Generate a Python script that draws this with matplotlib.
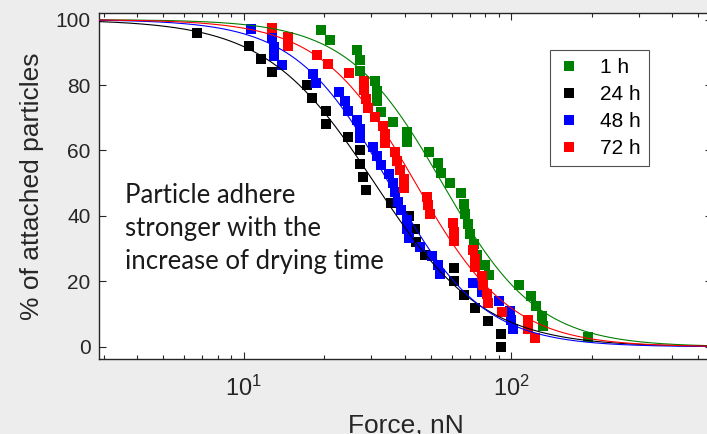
import numpy as np
import matplotlib
matplotlib.use("Agg")
import matplotlib.pyplot as plt

# ---- data ----
labels = ["1 h", "24 h", "48 h", "72 h"]
colors = ["#008000", "#000000", "#0000ff", "#ff0000"]

green_force = [19.5, 21.1, 26.5, 27.2, 27.2, 31.1, 31.5, 31.5, 32.6, 36.1, 41.0, 41.0, 49.4, 53.2, 54.9,
               59.0, 65.0, 66.7, 67.5, 69.2, 70.1, 72.5, 74.4, 79.9, 82.8, 107.2, 118.8, 123.5, 130.9, 132.0, 194.0]
green_pct = [96.9, 93.8, 90.6, 87.5, 84.4, 81.3, 78.1, 75.0, 71.9, 68.8, 65.6, 62.5, 59.4, 56.3, 53.1,
             50.0, 46.9, 43.8, 40.6, 37.5, 34.4, 31.3, 28.1, 25.0, 21.9, 18.8, 15.6, 12.5, 9.4, 6.3, 3.1]

black_force = [6.68, 10.46, 11.65, 12.82, 17.3, 18.0, 20.25, 20.25, 24.6, 27.2, 27.2, 28.0, 28.7, 35.6, 41.7,
               43.7, 44.3, 47.8, 61.1, 61.1, 66.8, 73.5, 82.3, 92.1, 92.1]
black_pct = [96, 92, 88, 84, 80, 76, 72, 68, 64, 60, 56, 52, 48, 44, 40, 36, 32, 28, 24, 20, 16, 12, 8, 4, 0]

blue_force = [10.67, 12.82, 13.03, 13.03, 13.9, 18.1, 18.7, 22.8, 24.0, 24.6, 26.5, 27.3, 27.3, 30.4, 31.5,
              32.6, 34.9, 36.3, 36.7, 37.9, 38.8, 40.7, 41.0, 41.4, 45.8, 50.7, 53.2, 54.3, 72.3, 77.9,
              89.8, 99.2, 100.0, 102.0]
blue_pct = [97.2, 94.4, 91.7, 88.9, 86.1, 83.3, 80.6, 77.8, 75.0, 72.2, 69.4, 66.7, 63.9, 61.1, 58.3,
            55.6, 52.8, 50.0, 47.2, 44.4, 41.7, 38.9, 36.1, 33.3, 30.6, 27.8, 25.0, 22.2, 19.4, 16.7,
            13.9, 11.1, 8.3, 5.6]

red_force = [12.82, 14.7, 14.7, 18.8, 20.6, 24.8, 28.1, 28.1, 28.6, 29.2, 31.0, 33.1, 33.7, 33.7, 36.9,
             37.4, 38.5, 39.9, 39.9, 48.4, 48.9, 49.6, 60.9, 61.3, 61.3, 72.3, 73.4, 73.4, 77.7, 78.8,
             81.2, 82.3, 92.3, 116.1, 116.1, 122.9]
red_pct = [97.3, 94.6, 91.9, 89.2, 86.5, 83.8, 81.1, 78.4, 75.7, 73.0, 70.3, 67.6, 64.9, 62.2, 59.5,
           56.8, 54.1, 51.4, 48.6, 45.9, 43.2, 40.5, 37.8, 35.1, 32.4, 29.7, 27.0, 24.3, 21.6, 18.9,
           16.2, 13.5, 10.8, 8.1, 5.4, 2.7]

yticks = [0, 20, 40, 60, 80, 100]
annotation = "Particle adhere\nstronger with the\nincrease of drying time"

series = [(green_force, green_pct), (black_force, black_pct),
          (blue_force, blue_pct), (red_force, red_pct)]


def fit_logistic(F, y):
    """Least-squares fit of y = 100 / (1 + (F/F50)^n) by grid search."""
    lf = np.log(np.asarray(F, float))
    yv = np.asarray(y, float)
    mus = np.linspace(np.log(5), np.log(300), 500)
    ns = np.linspace(0.5, 8, 400)
    M, N = np.meshgrid(mus, ns, indexing="ij")
    pred = 100.0 / (1.0 + np.exp(N[..., None] * (lf - M[..., None])))
    err = ((pred - yv) ** 2).sum(-1)
    i, j = np.unravel_index(err.argmin(), err.shape)
    return mus[i], ns[j]


plt.rcParams["font.family"] = ["Liberation Sans", "DejaVu Sans"]
plt.rcParams["mathtext.fontset"] = "custom"
plt.rcParams["mathtext.rm"] = "Liberation Sans"
plt.rcParams["mathtext.it"] = "Liberation Sans"

W, H = 707, 434
fig = plt.figure(figsize=(W / 100, H / 100), dpi=100, facecolor="#ededed")
left_px, right_px, top_px, bot_px = 99, 712, 13, 359
ax = fig.add_axes([left_px / W, 1 - bot_px / H, (right_px - left_px) / W, (bot_px - top_px) / H])
ax.set_facecolor("white")

xmin, xmax = 2.88, 564
fgrid = np.logspace(np.log10(xmin), np.log10(xmax), 400)

for (F, y), c, lab in zip(series, colors, labels):
    ax.plot(F, y, linestyle="none", marker="s", markersize=7.3, markerfacecolor=c,
            markeredgewidth=0, color=c, label=lab, zorder=3)
for (F, y), c in zip(series, colors):
    mu, n = fit_logistic(F, y)
    ax.plot(fgrid, 100.0 / (1.0 + np.exp(n * (np.log(fgrid) - mu))), color=c, lw=0.8, zorder=4)

ax.set_xscale("log")
ax.set_xlim(xmin, xmax)
ax.set_ylim(-3.7, 102.0)
ax.set_yticks(yticks)

spine_c = "#262626"
for s in ax.spines.values():
    s.set_color(spine_c)
    s.set_linewidth(1.0)
ax.tick_params(which="both", direction="in", top=True, right=True, colors=spine_c,
               labelsize=15, width=0.8)
ax.tick_params(which="major", length=5)
ax.tick_params(which="minor", length=3)
ax.tick_params(axis="x", which="major", pad=12, labelsize=17)
ax.tick_params(axis="y", which="major", pad=6)

ax.set_xlabel("Force, nN", fontsize=19, color=spine_c, labelpad=9)
ax.set_ylabel("% of attached particles", fontsize=19, color=spine_c, labelpad=8)

ax.text(0.043, 0.51, annotation, transform=ax.transAxes, fontsize=18.5, family="Lato",
        color="#1a1a1a", va="top", ha="left", linespacing=1.42)

leg = ax.legend(loc="upper left", bbox_to_anchor=((550 - left_px) / (right_px - left_px),
                                                  1 - (50 - top_px) / (bot_px - top_px)),
                fontsize=15, frameon=True, fancybox=False, edgecolor=spine_c,
                handlelength=1.0, handletextpad=1.0, borderpad=0.4, labelspacing=0.38,
                markerscale=0.9, borderaxespad=0)
leg.get_frame().set_linewidth(0.8)

fig.savefig("out.png", dpi=100, facecolor=fig.get_facecolor())
